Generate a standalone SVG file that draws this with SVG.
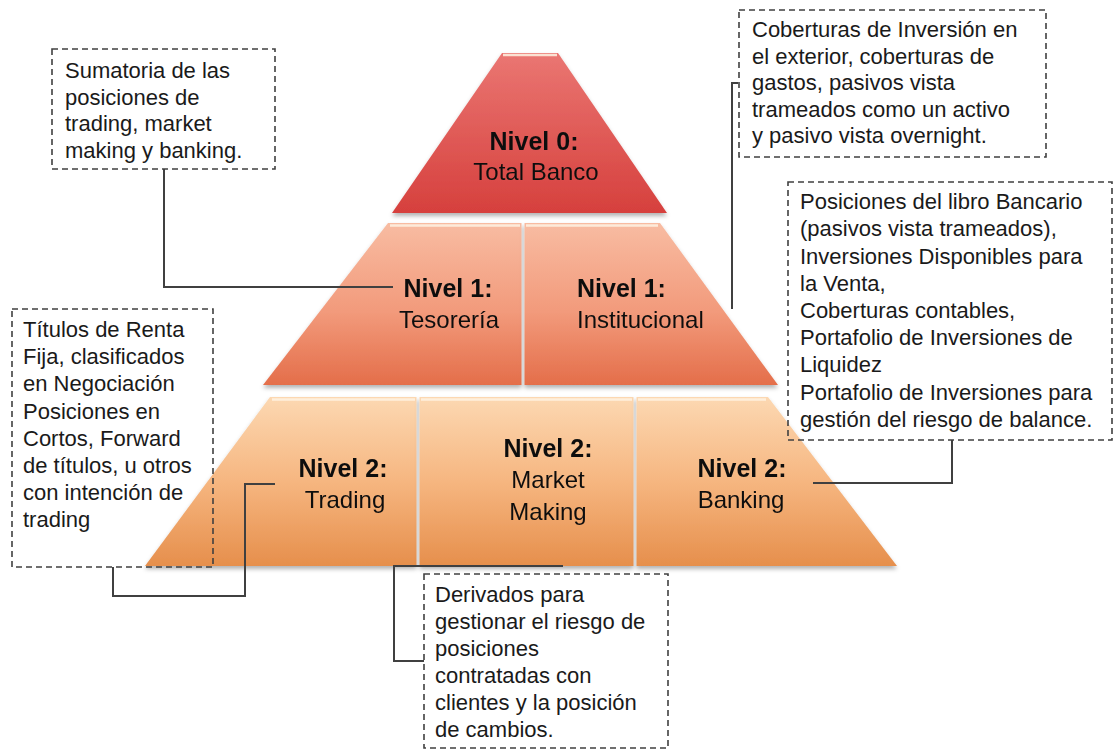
<svg xmlns="http://www.w3.org/2000/svg" width="1115" height="751" viewBox="0 0 1115 751">
<style>
.lbl{font-family:"Liberation Sans",Arial,sans-serif;font-size:24px;fill:#111;text-anchor:middle}
.b{font-weight:bold;font-size:25px}
.note{font-family:"Liberation Sans",Arial,sans-serif;font-size:22px;fill:#1a1a1a}
.box{fill:#fff;stroke:#404040;stroke-width:1.6;stroke-dasharray:6 4}
.conn{fill:none;stroke:#404040;stroke-width:2}
.div{stroke:#fff;stroke-width:3}
.hl{stroke:#fff4e4;stroke-width:2.5;opacity:0.85}
</style>
<defs>
<linearGradient id="g0" x1="0" y1="0" x2="0" y2="1">
<stop offset="0" stop-color="#ea7672"/><stop offset="1" stop-color="#d6403d"/>
</linearGradient>
<linearGradient id="g1" x1="0" y1="0" x2="0" y2="1">
<stop offset="0" stop-color="#f8bca2"/><stop offset="0.55" stop-color="#f29a7b"/><stop offset="1" stop-color="#e46e4a"/>
</linearGradient>
<linearGradient id="g2" x1="0" y1="0" x2="0" y2="1">
<stop offset="0" stop-color="#fcd8b2"/><stop offset="0.5" stop-color="#f6b680"/><stop offset="1" stop-color="#e68f4c"/>
</linearGradient>
<filter id="sh" x="-10%" y="-10%" width="120%" height="130%">
<feDropShadow dx="0" dy="3" stdDeviation="2" flood-color="#000" flood-opacity="0.3"/>
</filter>
</defs>

<g id="level0" filter="url(#sh)">
<polygon points="502,53 558,53 667,213 392,213" fill="url(#g0)"/>
<line class="hl" x1="503" y1="55" x2="557" y2="55"/>
<text class="lbl b" x="534" y="150">Nivel 0:</text>
<text class="lbl" x="536" y="180">Total Banco</text>
</g>

<g id="level1-tesoreria" filter="url(#sh)">
<polygon points="388,223 521.5,223 521.5,385 263,385" fill="url(#g1)"/>
<line class="hl" x1="390" y1="225.5" x2="520" y2="225.5"/>
<text class="lbl b" x="448" y="297">Nivel 1:</text>
<text class="lbl" x="449" y="328">Tesorería</text>
</g>

<g id="level1-institucional" filter="url(#sh)">
<polygon points="524.5,223 660,223 778,385 524.5,385" fill="url(#g1)"/>
<line class="hl" x1="526" y1="225.5" x2="658" y2="225.5"/>
<text class="lbl b" x="577" y="297" style="text-anchor:start">Nivel 1:</text>
<text class="lbl" x="577" y="328" style="text-anchor:start">Institucional</text>
</g>

<g id="level2-trading" filter="url(#sh)">
<polygon points="270,397 416.5,397 416.5,566 145,566" fill="url(#g2)"/>
<line class="hl" x1="272" y1="399.5" x2="415" y2="399.5"/>
<text class="lbl b" x="343" y="477">Nivel 2:</text>
<text class="lbl" x="345" y="508">Trading</text>
</g>

<g id="level2-marketmaking" filter="url(#sh)">
<polygon points="419.5,397 633.5,397 633.5,566 419.5,566" fill="url(#g2)"/>
<line class="hl" x1="421" y1="399.5" x2="632" y2="399.5"/>
<text class="lbl b" x="548" y="457">Nivel 2:</text>
<text class="lbl" x="548" y="488">Market</text>
<text class="lbl" x="548" y="520">Making</text>
</g>

<g id="level2-banking" filter="url(#sh)">
<polygon points="636.5,397 768,397 897,566 636.5,566" fill="url(#g2)"/>
<line class="hl" x1="638" y1="399.5" x2="766" y2="399.5"/>
<text class="lbl b" x="742" y="477">Nivel 2:</text>
<text class="lbl" x="741" y="508">Banking</text>
</g>

<g id="connectors">
<path class="conn" d="M164,169 V287 H393"/>
<path class="conn" d="M738,83 H732 V309"/>
<path class="conn" d="M952,440 V483 H813"/>
<path class="conn" d="M113,567 V596 H245 V484 H275"/>
<path class="conn" d="M424,661 H394 V566 H563"/>
</g>

<g id="note-total">
<rect class="box" x="52" y="49" width="223" height="120" fill="none" style="fill:none"/>
<text class="note" x="65" y="78">Sumatoria de las</text>
<text class="note" x="65" y="105">posiciones de</text>
<text class="note" x="65" y="131">trading, market</text>
<text class="note" x="65" y="158">making y banking.</text>
</g>

<g id="note-institucional">
<rect class="box" x="739" y="10" width="307" height="147"/>
<text class="note" x="752" y="37">Coberturas de Inversión en</text>
<text class="note" x="752" y="63.5">el exterior, coberturas de</text>
<text class="note" x="752" y="90">gastos, pasivos vista</text>
<text class="note" x="752" y="116.5">trameados como un activo</text>
<text class="note" x="752" y="143">y pasivo vista overnight.</text>
</g>

<g id="note-banking">
<rect class="box" x="788" y="182" width="324" height="258" style="fill:none"/>
<text class="note" x="800" y="209">Posiciones del libro Bancario</text>
<text class="note" x="800" y="236">(pasivos vista trameados),</text>
<text class="note" x="800" y="263.5">Inversiones Disponibles para</text>
<text class="note" x="800" y="290.5">la Venta,</text>
<text class="note" x="800" y="318">Coberturas contables,</text>
<text class="note" x="800" y="345">Portafolio de Inversiones de</text>
<text class="note" x="800" y="372">Liquidez</text>
<text class="note" x="800" y="399.5">Portafolio de Inversiones para</text>
<text class="note" x="800" y="426.5">gestión del riesgo de balance.</text>
</g>

<g id="note-trading">
<rect class="box" x="12" y="309" width="201" height="258" style="fill:none"/>
<text class="note" x="23" y="337">Títulos de Renta</text>
<text class="note" x="23" y="364">Fija, clasificados</text>
<text class="note" x="23" y="391">en Negociación</text>
<text class="note" x="23" y="418.5">Posiciones en</text>
<text class="note" x="23" y="445.5">Cortos, Forward</text>
<text class="note" x="23" y="472.5">de títulos, u otros</text>
<text class="note" x="23" y="499.5">con intención de</text>
<text class="note" x="23" y="527">trading</text>
</g>

<g id="note-marketmaking">
<rect class="box" x="424" y="574" width="244" height="174"/>
<text class="note" x="435" y="602">Derivados para</text>
<text class="note" x="435" y="629">gestionar el riesgo de</text>
<text class="note" x="435" y="656">posiciones</text>
<text class="note" x="435" y="683">contratadas con</text>
<text class="note" x="435" y="710">clientes y la posición</text>
<text class="note" x="435" y="737">de cambios.</text>
</g>
</svg>
